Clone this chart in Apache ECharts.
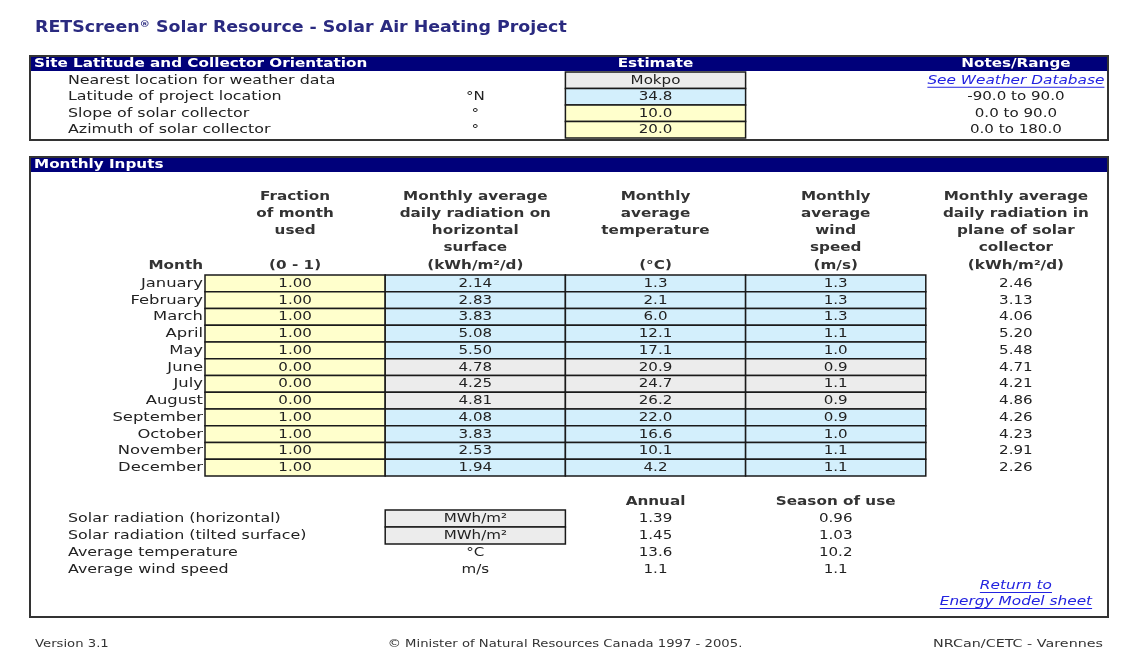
<!DOCTYPE html>
<html>
<head>
<meta charset="utf-8">
<script src="https://cdn.jsdelivr.net/npm/echarts@6/dist/echarts.min.js"></script>
<style>html,body{margin:0;padding:0;background:#fff}#c{width:1124px;height:663px}</style>
</head>
<body>
<div id="c"></div>
<script>
// ---------- DATA ----------
const siteLabels = ['Nearest location for weather data', 'Latitude of project location', 'Slope of solar collector', 'Azimuth of solar collector'];
const siteUnits = ['', '°N', '°', '°'];
const siteEstimates = ['Mokpo', '34.8', '10.0', '20.0'];
const siteNotes = ['See Weather Database', '-90.0 to 90.0', '0.0 to 90.0', '0.0 to 180.0'];
const siteHeaders = ['', '', 'Estimate', '', 'Notes/Range'];

const months = ['January', 'February', 'March', 'April', 'May', 'June', 'July', 'August', 'September', 'October', 'November', 'December'];
const fractionUsed = [1, 1, 1, 1, 1, 0, 0, 0, 1, 1, 1, 1];
const radiationHorizontal = [2.14, 2.83, 3.83, 5.08, 5.50, 4.78, 4.25, 4.81, 4.08, 3.83, 2.53, 1.94];
const temperature = [1.3, 2.1, 6.0, 12.1, 17.1, 20.9, 24.7, 26.2, 22.0, 16.6, 10.1, 4.2];
const windSpeed = [1.3, 1.3, 1.3, 1.1, 1.0, 0.9, 1.1, 0.9, 0.9, 1.0, 1.1, 1.1];
const radiationTilted = [2.46, 3.13, 4.06, 5.20, 5.48, 4.71, 4.21, 4.86, 4.26, 4.23, 2.91, 2.26];
const monthlyHeaders = [
  'Fraction\nof month\nused\n\n(0 - 1)',
  'Monthly average\ndaily radiation on\nhorizontal\nsurface\n(kWh/m²/d)',
  'Monthly\naverage\ntemperature\n\n(°C)',
  'Monthly\naverage\nwind\nspeed\n(m/s)',
  'Monthly average\ndaily radiation in\nplane of solar\ncollector\n(kWh/m²/d)'
];
const monthColumnTitle = 'Month';

const summaryLabels = ['Solar radiation (horizontal)', 'Solar radiation (tilted surface)', 'Average temperature', 'Average wind speed'];
const summaryUnits = ['MWh/m²', 'MWh/m²', '°C', 'm/s'];
const summaryAnnual = [1.39, 1.45, 13.6, 1.1];
const summarySeason = [0.96, 1.03, 10.2, 1.1];
const summaryHeaders = ['', '', 'Annual', 'Season of use', ''];
const returnLink = ['Return to', 'Energy Model sheet'];

// ---------- STYLE ----------
const FF = '"DejaVu Sans", Verdana, sans-serif';
const TXT = '#222';
const HEAD = '#333';
const NAVY = '#00007a';
const YELLOW = '#ffffcc';
const BLUE = '#d3effc';
const GREY = '#ececec';
const LINK = '#2323e0';
const BORDER = '#1a1a1a';
const siteFill = [GREY, BLUE, YELLOW, YELLOW];
const SX_N = 1.2;   // horizontal stretch of normal text
const SX_B = 1.17;  // horizontal stretch of bold text

const KIND = {
  value:   { font: '13px ' + FF, sx: 1.16, align: 'center', color: TXT },
  link:    { font: 'italic 13px ' + FF, sx: 1.18, align: 'center', color: LINK, underline: true },
  labelL:  { font: '13px ' + FF, sx: 1.22, align: 'left', color: TXT, off: -137 },
  labelR:  { font: '13px ' + FF, sx: 1.26, align: 'right', color: TXT, off: -2 },
  header:  { font: 'bold 13px ' + FF, sx: SX_B, align: 'center', color: HEAD, top: true, lh: 17.3, gap: 1 },
  headerW: { font: 'bold 13px ' + FF, sx: SX_B, align: 'center', color: '#fff', top: true, lh: 15, gap: 1 },
  headerS: { font: 'bold 13px ' + FF, sx: SX_B, align: 'center', color: HEAD, top: true, lh: 15, gap: 1 },
  headerR: { font: 'bold 13px ' + FF, sx: SX_B, align: 'right', color: HEAD, top: true, lh: 17.3, gap: 1, off: -2 }
};

const mctx = document.createElement('canvas').getContext('2d');
function textWidth(t, font) { mctx.font = font; return mctx.measureText(t).width; }
function fmt(v, d) { return Number(v).toFixed(d); }

// ---------- CELLS (built from the data arrays) ----------
const siteCells = [];
siteHeaders.forEach((h, c) => { if (h) siteCells.push({ c: c, r: 0, t: h, k: 'headerW' }); });
siteLabels.forEach((l, r) => {
  siteCells.push({ c: 0, r: r, t: l, k: 'labelL' });
  if (siteUnits[r]) siteCells.push({ c: 1, r: r, t: siteUnits[r], k: 'value' });
  siteCells.push({ c: 2, r: r, t: siteEstimates[r], k: 'value', fill: siteFill[r] });
  siteCells.push({ c: 4, r: r, t: siteNotes[r], k: r === 0 ? 'link' : 'value' });
});

const monthCells = [];
monthlyHeaders.forEach((h, c) => monthCells.push({ c: c, r: 0, t: h, k: 'header' }));
monthCells.push({ c: 0, r: 0, t: monthColumnTitle, k: 'headerR' });
months.forEach((m, r) => {
  const f = fractionUsed[r] > 0 ? BLUE : GREY;
  monthCells.push({ c: 0, r: r, t: m, k: 'labelR' });
  monthCells.push({ c: 0, r: r, t: fmt(fractionUsed[r], 2), k: 'value', fill: YELLOW });
  monthCells.push({ c: 1, r: r, t: fmt(radiationHorizontal[r], 2), k: 'value', fill: f });
  monthCells.push({ c: 2, r: r, t: fmt(temperature[r], 1), k: 'value', fill: f });
  monthCells.push({ c: 3, r: r, t: fmt(windSpeed[r], 1), k: 'value', fill: f });
  monthCells.push({ c: 4, r: r, t: fmt(radiationTilted[r], 2), k: 'value' });
});

const sumCells = [];
summaryHeaders.forEach((h, c) => { if (h) sumCells.push({ c: c, r: 0, t: h, k: 'headerS' }); });
summaryLabels.forEach((l, r) => {
  const d = r < 2 ? 2 : 1;
  sumCells.push({ c: 0, r: r, t: l, k: 'labelL' });
  sumCells.push({ c: 1, r: r, t: summaryUnits[r], k: 'value', fill: r < 2 ? GREY : null });
  sumCells.push({ c: 2, r: r, t: fmt(summaryAnnual[r], d), k: 'value' });
  sumCells.push({ c: 3, r: r, t: fmt(summarySeason[r], d), k: 'value' });
});
returnLink.forEach((t, i) => sumCells.push({ c: 4, r: 4 + i, t: t, k: 'link', dy: i === 0 ? -1 : -2 }));

function makeRender(cells) {
  return function (params, api) {
    const cell = cells[params.dataIndex];
    const K = KIND[cell.k];
    const p = api.coord([api.value(0), api.value(1)]);
    const s = api.size([1, 1]);
    const children = [];
    if (cell.fill) {
      children.push({
        type: 'rect',
        shape: { x: p[0] - s[0] / 2, y: p[1] - s[1] / 2, width: s[0], height: s[1] },
        style: { fill: cell.fill, stroke: BORDER, lineWidth: 1.5 }
      });
    }
    let tx = p[0], ty = p[1] + (cell.dy || 0), va = 'middle';
    if (K.off !== undefined) tx = p[0] - s[0] / 2 + K.off;
    if (K.top) { ty = p[1] - s[1] / 2 - K.gap; va = 'bottom'; }
    const st = { text: cell.t, x: 0, y: 0, align: K.align, verticalAlign: va, font: K.font, fill: K.color };
    if (K.lh) st.lineHeight = K.lh;
    children.push({ type: 'text', x: tx, y: ty, scaleX: K.sx, style: st });
    if (K.underline) {
      const w = textWidth(cell.t, K.font) * K.sx;
      children.push({
        type: 'line',
        shape: { x1: tx - w / 2, y1: ty + 7, x2: tx + w / 2, y2: ty + 7 },
        style: { stroke: LINK, lineWidth: 1 }
      });
    }
    return { type: 'group', children: children };
  };
}
function toData(cells) { return cells.map(c => [c.c, c.r]); }

const hidden = { axisLine: { show: false }, axisTick: { show: false }, splitLine: { show: false }, axisLabel: { show: false } };
function xCat(g, data) { return Object.assign({ type: 'category', gridIndex: g, position: 'top', data: data }, hidden); }
function yCat(g, data) { return Object.assign({ type: 'category', gridIndex: g, inverse: true, data: data }, hidden); }

const option = {
  animation: false,
  backgroundColor: '#fff',
  grid: [
    { left: 205, top: 72, width: 901, height: 66 },
    { left: 205, top: 275, width: 901, height: 201 },
    { left: 205, top: 510, width: 901, height: 102 }
  ],
  xAxis: [xCat(0, siteHeaders), xCat(1, monthlyHeaders), xCat(2, summaryHeaders)],
  yAxis: [yCat(0, siteLabels), yCat(1, months), yCat(2, summaryLabels.concat(['', '']))],
  series: [
    { type: 'custom', xAxisIndex: 0, yAxisIndex: 0, data: toData(siteCells), encode: { x: 0, y: 1 }, renderItem: makeRender(siteCells), clip: false },
    { type: 'custom', xAxisIndex: 1, yAxisIndex: 1, data: toData(monthCells), encode: { x: 0, y: 1 }, renderItem: makeRender(monthCells), clip: false },
    { type: 'custom', xAxisIndex: 2, yAxisIndex: 2, data: toData(sumCells), encode: { x: 0, y: 1 }, renderItem: makeRender(sumCells), clip: false }
  ],
  graphic: [
    { type: 'text', x: 35, y: 28, scaleX: 1.16, z: 10,
      style: { text: '{a|RETScreen}{s|®}{a| Solar Resource - Solar Air Heating Project}', x: 0, y: 0, verticalAlign: 'middle',
        rich: { a: { fontSize: 15, fontWeight: 'bold', fontFamily: FF, fill: '#2a2a80' },
                s: { fontSize: 9, fontWeight: 'bold', fontFamily: FF, fill: '#2a2a80', verticalAlign: 'top' } } } },
    // site box
    { type: 'rect', z: -10, shape: { x: 30, y: 56, width: 1078, height: 15 }, style: { fill: NAVY } },
    { type: 'rect', z: -9, shape: { x: 30, y: 56, width: 1078, height: 84 }, style: { fill: null, stroke: '#333', lineWidth: 2 } },
    { type: 'text', z: 10, x: 34, y: 64, scaleX: SX_B, style: { text: 'Site Latitude and Collector Orientation', x: 0, y: 0, fill: '#fff', font: 'bold 13px ' + FF, verticalAlign: 'middle' } },
    // monthly box
    { type: 'rect', z: -10, shape: { x: 30, y: 157, width: 1078, height: 15 }, style: { fill: NAVY } },
    { type: 'rect', z: -9, shape: { x: 30, y: 157, width: 1078, height: 460 }, style: { fill: null, stroke: '#333', lineWidth: 2 } },
    { type: 'text', z: 10, x: 34, y: 165, scaleX: SX_B, style: { text: 'Monthly Inputs', x: 0, y: 0, fill: '#fff', font: 'bold 13px ' + FF, verticalAlign: 'middle' } },
    // footer
    { type: 'text', z: 10, x: 35, y: 644, scaleX: SX_N, style: { text: 'Version 3.1', x: 0, y: 0, fill: '#333', font: '11px ' + FF, verticalAlign: 'middle' } },
    { type: 'text', z: 10, x: 565, y: 644, scaleX: SX_N, style: { text: '© Minister of Natural Resources Canada 1997 - 2005.', x: 0, y: 0, fill: '#333', font: '11px ' + FF, align: 'center', verticalAlign: 'middle' } },
    { type: 'text', z: 10, x: 1103, y: 644, scaleX: 1.3, style: { text: 'NRCan/CETC - Varennes', x: 0, y: 0, fill: '#333', font: '11px ' + FF, align: 'right', verticalAlign: 'middle' } }
  ]
};

const chart = echarts.init(document.getElementById('c'), null, { renderer: 'canvas' });
chart.setOption(option);
</script>
</body>
</html>
